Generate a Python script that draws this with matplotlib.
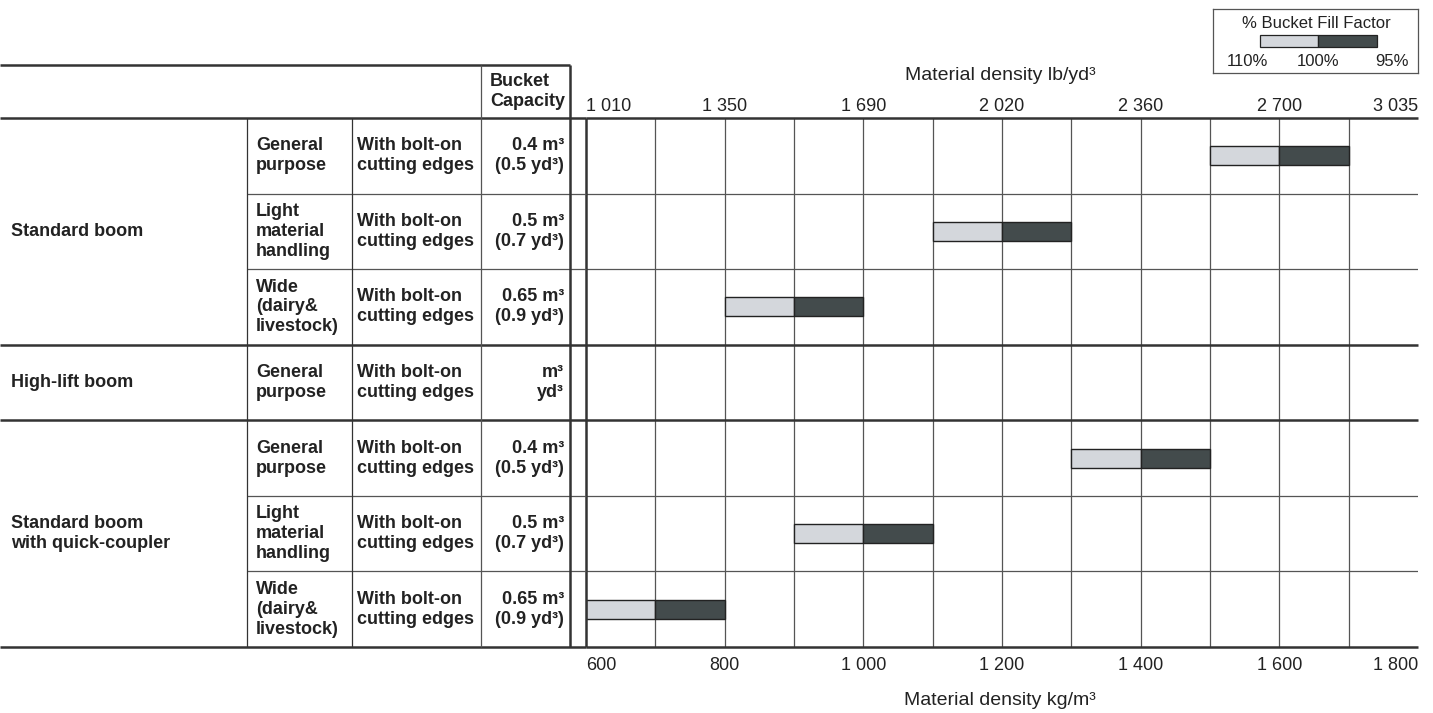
import numpy as np
import matplotlib.pyplot as plt
from matplotlib.patches import Rectangle

plt.rcParams['font.family'] = ['Liberation Sans', 'DejaVu Sans']

# density ranges (kg/m3) at 110%, 100% and 95% bucket fill factor, one per row
dens_110 = [1500, 1100, 800, np.nan, 1300, 900, 600]
dens_100 = [1600, 1200, 900, np.nan, 1400, 1000, 700]
dens_95 = [1700, 1300, 1000, np.nan, 1500, 1100, 800]

groups = ["Standard boom", "High-lift boom", "Standard boom\nwith quick-coupler"]
group_rows = [3, 1, 3]
types = ["General\npurpose", "Light\nmaterial\nhandling", "Wide\n(dairy&\nlivestock)",
         "General\npurpose",
         "General\npurpose", "Light\nmaterial\nhandling", "Wide\n(dairy&\nlivestock)"]
edges = ["With bolt-on\ncutting edges"] * 7
capacity = ["0.4 m³\n(0.5 yd³)", "0.5 m³\n(0.7 yd³)", "0.65 m³\n(0.9 yd³)",
            "m³\nyd³",
            "0.4 m³\n(0.5 yd³)", "0.5 m³\n(0.7 yd³)", "0.65 m³\n(0.9 yd³)"]

kg_ticks = [600, 800, 1000, 1200, 1400, 1600, 1800]
kg_labels = ["600", "800", "1 000", "1 200", "1 400", "1 600", "1 800"]
lb_labels = ["1 010", "1 350", "1 690", "2 020", "2 360", "2 700", "3 035"]
grid_kg = [700, 800, 900, 1000, 1100, 1200, 1300, 1400, 1500, 1600, 1700]

LIGHT = "#d4d7dc"
DARK = "#434b4c"
TXT = "#222222"
THICK = "#333333"
THIN = "#555555"
W = 1433
H = 713
LS = 1.22


def fx(px):
    return px / W


def fy(py):
    return 1 - py / H


n = len(types)
rh = (647 - 118) / n          # row height in px
hdr = (118 - 65) / rh         # header height in row units

fig = plt.figure(figsize=(14.33, 7.13), dpi=100)

# ---- chart part
ax = fig.add_axes([fx(586), fy(647), fx(1418) - fx(586), fy(118) - fy(647)])
ax.set_xlim(600, 1800)
ax.set_ylim(n, 0)
for s in ax.spines.values():
    s.set_visible(False)
ax.set_yticks([])

rows = np.arange(n) + 0.5
w1 = np.array(dens_100) - np.array(dens_110)
w2 = np.array(dens_95) - np.array(dens_100)
ax.barh(rows, w1, left=dens_110, height=0.25, color=LIGHT, edgecolor=TXT, lw=1, zorder=3)
ax.barh(rows, w2, left=dens_100, height=0.25, color=DARK, edgecolor=TXT, lw=1, zorder=3)

ax.vlines(grid_kg, 0, n, color=THIN, lw=0.9, zorder=1)
ax.vlines(600, 0, n, color=THICK, lw=1.8, zorder=4, clip_on=False)
for y in [1, 2, 5, 6]:
    ax.hlines(y, 600, 1800, color=THIN, lw=0.9, zorder=1)
for y in [0, 3, 4, 7]:
    ax.hlines(y, 600, 1800, color=THICK, lw=1.8, zorder=4, clip_on=False)

ax.set_xticks(kg_ticks, labels=kg_labels)
ax.tick_params(axis='x', length=0, pad=7, labelsize=13, labelcolor=TXT)
lbls = ax.get_xticklabels()
lbls[0].set_ha('left')
lbls[-1].set_ha('right')

top = ax.secondary_xaxis('top')
top.set_xticks(kg_ticks, labels=lb_labels)
top.tick_params(length=0, pad=2, labelsize=13, labelcolor=TXT)
for s in top.spines.values():
    s.set_visible(False)
tl = top.get_xticklabels()
tl[0].set_ha('left')
tl[-1].set_ha('right')

fig.text(fx(1000), fy(80), "Material density lb/yd³", ha='center', va='baseline',
         fontsize=14, color=TXT)
fig.text(fx(1000), fy(705), "Material density kg/m³", ha='center', va='baseline',
         fontsize=14, color=TXT)

# ---- table part
tab = fig.add_axes([0, fy(647), fx(586), fy(65) - fy(647)])
tab.set_xlim(0, 586)
tab.set_ylim(n, -hdr)
tab.axis('off')

tab.hlines(-hdr, 0, 570, color=THICK, lw=1.8, clip_on=False)
for y in [0, 3, 4, 7]:
    tab.hlines(y, 0, 586, color=THICK, lw=1.8, clip_on=False)
for y in [1, 2, 5, 6]:
    tab.hlines(y, 247, 586, color=THIN, lw=0.9, clip_on=False)
tab.vlines([247, 352], 0, n, color=THICK, lw=0.9, clip_on=False)
tab.vlines(481, -hdr, n, color=THIN, lw=0.9, clip_on=False)
tab.vlines(570, -hdr, n, color=THICK, lw=1.8, clip_on=False)

tab.text(565, -hdr / 2, "Bucket\nCapacity", ha='right', va='center', ma='left',
         fontsize=13, fontweight='bold', color=TXT, linespacing=LS)

start = 0
for g, cnt in zip(groups, group_rows):
    tab.text(11, start + cnt / 2, g, ha='left', va='center', fontsize=13,
             fontweight='bold', color=TXT, linespacing=LS)
    start += cnt

for i in range(n):
    tab.text(256, i + 0.5, types[i], ha='left', va='center', fontsize=13,
             fontweight='bold', color=TXT, linespacing=LS)
    tab.text(357, i + 0.5, edges[i], ha='left', va='center', fontsize=13,
             fontweight='bold', color=TXT, linespacing=LS)
    tab.text(564, i + 0.5, capacity[i], ha='right', va='center', ma='right',
             fontsize=13, fontweight='bold', color=TXT, linespacing=LS)

# ---- fill factor key
leg = fig.add_axes([fx(1213), fy(73), fx(1418) - fx(1213), fy(9) - fy(73)])
leg.set_xlim(0, 205)
leg.set_ylim(64, 0)
leg.set_xticks([])
leg.set_yticks([])
for s in leg.spines.values():
    s.set_color(THIN)
    s.set_linewidth(0.9)
leg.add_patch(Rectangle((47, 26), 58, 12, facecolor=LIGHT, edgecolor=TXT, lw=0.9))
leg.add_patch(Rectangle((105, 26), 59, 12, facecolor=DARK, edgecolor=TXT, lw=0.9))
leg.text(103, 14, "% Bucket Fill Factor", ha='center', va='center', fontsize=12, color=TXT)
leg.text(34, 52, "110%", ha='center', va='center', fontsize=12, color=TXT)
leg.text(105, 52, "100%", ha='center', va='center', fontsize=12, color=TXT)
leg.text(179, 52, "95%", ha='center', va='center', fontsize=12, color=TXT)

fig.savefig("out.png", dpi=100)
